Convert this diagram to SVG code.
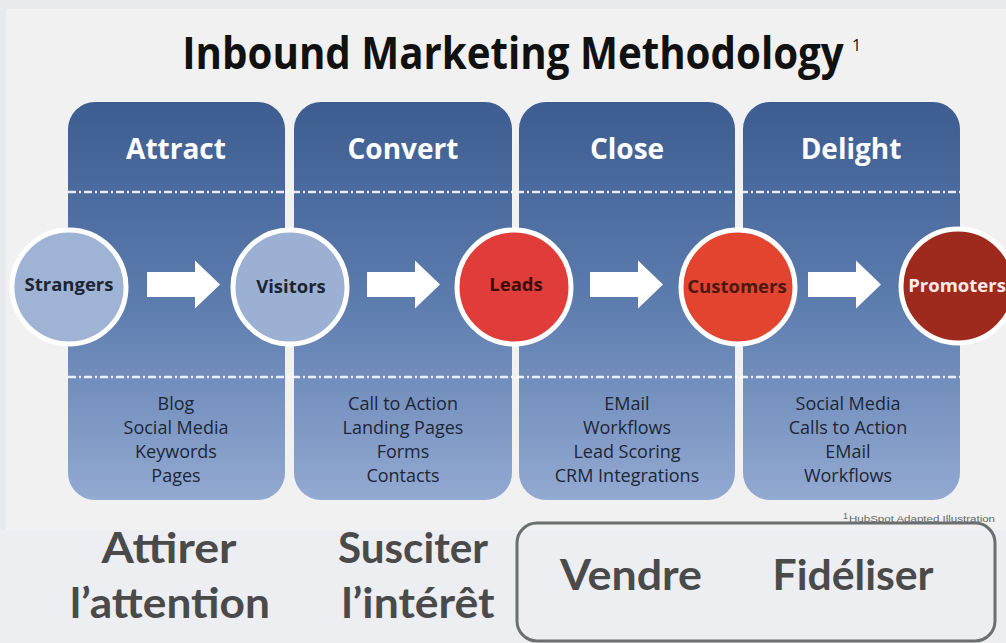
<svg xmlns="http://www.w3.org/2000/svg" xmlns:xlink="http://www.w3.org/1999/xlink" width="1006" height="643" viewBox="0 0 1006 643">
<defs>
<linearGradient id="colg" gradientUnits="userSpaceOnUse" x1="0" y1="102" x2="0" y2="500">
<stop offset="0" stop-color="#3d5d91"/>
<stop offset="0.5" stop-color="#5c7cae"/>
<stop offset="1" stop-color="#93aad2"/>
</linearGradient>
<path id="arrow" d="M0 -12.5 H48 V-24 L73 0 L48 24 V12.5 H0 Z"/>
<style>
.hdr{font-family:"Open Sans","DejaVu Sans",sans-serif;font-weight:700;font-size:28px;fill:#ffffff;text-anchor:middle}
.lst{font-family:"Open Sans","DejaVu Sans",sans-serif;font-size:18px;fill:#1e2636;text-anchor:middle}
.ctx{font-family:"Open Sans","DejaVu Sans",sans-serif;font-weight:700;font-size:18.5px;text-anchor:middle}
.fr{font-family:Lato,"Open Sans",sans-serif;font-weight:700;font-size:42px;fill:#4a4a4a;text-anchor:middle}
.dash{stroke:#ffffff;stroke-opacity:0.85;stroke-width:2.5;stroke-dasharray:8 3 2 3;fill:none}
.circ{stroke:#ffffff;stroke-width:5}
.arr{fill:#ffffff}
</style>
</defs>
<rect x="0" y="0" width="1006" height="643" fill="#e8eaee"/>
<rect x="6" y="9" width="1000" height="521" fill="#f1f1f1"/>
<rect x="0" y="530" width="1006" height="113" fill="#eceef2"/>

<g id="title">
<text transform="translate(513,69) scale(0.915,1)" text-anchor="middle" font-family="'Open Sans','DejaVu Sans',sans-serif" font-weight="700" font-size="44" fill="#111111">Inbound Marketing Methodology</text>
<text x="852" y="51" font-family="'Open Sans','DejaVu Sans',sans-serif" font-size="16" fill="#111111">1</text>
</g>

<g id="col-attract">
<rect x="68" y="102" width="217" height="398" rx="27" fill="url(#colg)"/>
<text class="hdr" x="176" y="159">Attract</text>
<text class="lst" x="176" y="410">Blog</text>
<text class="lst" x="176" y="434">Social Media</text>
<text class="lst" x="176" y="458">Keywords</text>
<text class="lst" x="176" y="482">Pages</text>
</g>
<g id="col-convert">
<rect x="294" y="102" width="218" height="398" rx="27" fill="url(#colg)"/>
<text class="hdr" x="403" y="159">Convert</text>
<text class="lst" x="403" y="410">Call to Action</text>
<text class="lst" x="403" y="434">Landing Pages</text>
<text class="lst" x="403" y="458">Forms</text>
<text class="lst" x="403" y="482">Contacts</text>
</g>
<g id="col-close">
<rect x="519" y="102" width="216" height="398" rx="27" fill="url(#colg)"/>
<text class="hdr" x="627" y="159">Close</text>
<text class="lst" x="627" y="410">EMail</text>
<text class="lst" x="627" y="434">Workflows</text>
<text class="lst" x="627" y="458">Lead Scoring</text>
<text class="lst" x="627" y="482">CRM Integrations</text>
</g>
<g id="col-delight">
<rect x="743" y="102" width="217" height="398" rx="27" fill="url(#colg)"/>
<text class="hdr" x="851" y="159">Delight</text>
<text class="lst" x="848" y="410">Social Media</text>
<text class="lst" x="848" y="434">Calls to Action</text>
<text class="lst" x="848" y="458">EMail</text>
<text class="lst" x="848" y="482">Workflows</text>
</g>

<g id="dividers">
<line class="dash" x1="68" y1="192" x2="960" y2="192"/>
<line class="dash" x1="68" y1="377" x2="960" y2="377"/>
</g>

<g id="connectors">
<use xlink:href="#arrow" class="arr" transform="translate(147,284.5)"/>
<use xlink:href="#arrow" class="arr" transform="translate(367,284.5)"/>
<use xlink:href="#arrow" class="arr" transform="translate(590,284.5)"/>
<use xlink:href="#arrow" class="arr" transform="translate(808,284.5)"/>
</g>

<g id="node-strangers">
<circle class="circ" cx="69" cy="287" r="57" fill="#9fb3d5"/>
<text class="ctx" x="69" y="291" fill="#1b2533">Strangers</text>
</g>
<g id="node-visitors">
<circle class="circ" cx="290" cy="287" r="57" fill="#9cb0d4"/>
<text class="ctx" x="291" y="293" fill="#1b2533">Visitors</text>
</g>
<g id="node-leads">
<circle class="circ" cx="514" cy="287" r="57" fill="#e03d3a"/>
<text class="ctx" x="516" y="291" fill="#3a0c08">Leads</text>
</g>
<g id="node-customers">
<circle class="circ" cx="738" cy="287" r="57" fill="#e2442f"/>
<text class="ctx" x="737" y="293" fill="#4b1810">Customers</text>
</g>
<g id="node-promoters">
<circle class="circ" cx="958" cy="286" r="57" fill="#9e2a1e"/>
<text class="ctx" x="957" y="292" fill="#f7eae8">Promoters</text>
</g>

<g id="footnote">
<text x="843" y="522" font-family="'Liberation Sans',sans-serif" fill="#666666"><tspan font-size="9" dy="-3">1</tspan><tspan font-size="9.5" dx="1" dy="3" textLength="146" lengthAdjust="spacingAndGlyphs">HubSpot Adapted Illustration</tspan></text>
</g>

<g id="label-attirer">
<text class="fr" x="169" y="563" textLength="135" lengthAdjust="spacingAndGlyphs">Attirer</text>
<text class="fr" x="170" y="618" textLength="200" lengthAdjust="spacingAndGlyphs">l’attention</text>
</g>
<g id="label-susciter">
<text class="fr" x="413" y="563" textLength="150" lengthAdjust="spacingAndGlyphs">Susciter</text>
<text class="fr" x="418" y="618" textLength="153" lengthAdjust="spacingAndGlyphs">l’intérêt</text>
</g>
<g id="box-vendre-fideliser">
<rect x="517" y="523" width="478" height="118" rx="20" fill="none" stroke="#6b6f6f" stroke-width="3"/>
<text class="fr" x="631" y="590" textLength="142" lengthAdjust="spacingAndGlyphs">Vendre</text>
<text class="fr" x="853" y="590" textLength="161" lengthAdjust="spacingAndGlyphs">Fidéliser</text>
</g>
</svg>
